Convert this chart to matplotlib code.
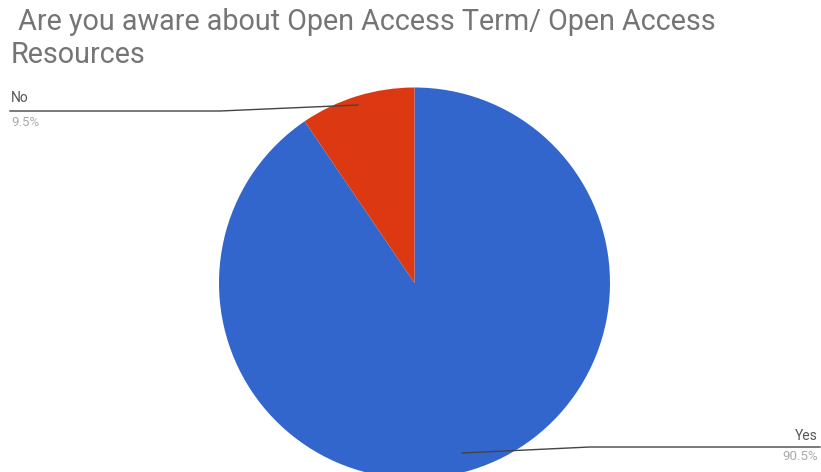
import matplotlib
matplotlib.use("Agg")
import matplotlib.pyplot as plt

# Dados
labels = ["Yes", "No"]
values = [90.5, 9.5]
colors = ["#3366CC", "#DC3912"]
title_lines = [" Are you aware about Open Access Term/ Open Access", "Resources"]

W, H = 821, 472


def main():
    plt.rcParams["font.family"] = ["Roboto", "DejaVu Sans"]
    fig = plt.figure(figsize=(W / 100, H / 100), dpi=100)
    ax = fig.add_axes([0, 0, 1, 1])

    # Pizza começando no topo, sentido horário
    cx, cy, r = 414.5, H - 283, 195.5
    ax.pie(values, colors=colors, startangle=90, counterclock=False,
           center=(cx, cy), radius=r, frame=True,
           wedgeprops=dict(linewidth=0))
    ax.set_xlim(0, W)
    ax.set_ylim(0, H)
    ax.set_aspect("equal")
    ax.axis("off")

    # Linhas guia
    ax.plot([10, 220, 358], [H - 111, H - 111, H - 105], color="#444444", lw=1)
    ax.plot([820, 590, 462], [H - 447, H - 447, H - 453], color="#444444", lw=1)

    # Rótulos
    ax.text(11, H - 98, labels[1], fontsize=10, color="#555555", va="center")
    ax.text(11, H - 123, f"{values[1]}%", fontsize=9.5, color="#aaaaaa", va="center")
    ax.text(818, H - 436, labels[0], fontsize=10, color="#555555", va="center", ha="right")
    ax.text(818, H - 456, f"{values[0]}%", fontsize=9.5, color="#aaaaaa", va="center", ha="right")

    # Título em duas linhas
    for line, base in zip(title_lines, [30, 63]):
        ax.text(11, H - base, line, fontsize=20.7, color="#757575",
                va="baseline", ha="left")

    fig.savefig("out.png", dpi=100)


if __name__ == "__main__":
    main()
